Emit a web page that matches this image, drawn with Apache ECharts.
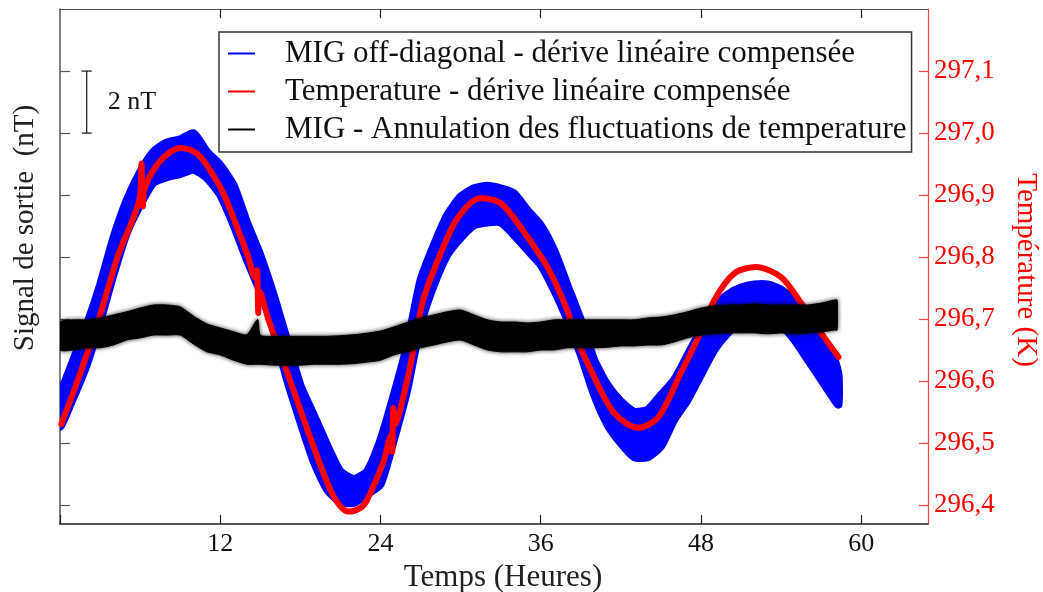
<!DOCTYPE html>
<html>
<head>
<meta charset="utf-8">
<script src="https://cdn.jsdelivr.net/npm/echarts@6/dist/echarts.min.js"></script>
<style>
html,body{margin:0;padding:0;background:#fff;}
#main{width:1043px;height:592px;}
</style>
</head>
<body>
<div id="main"></div>
<script>
// ---------- data ----------
const seriesNames = [
  'MIG off-diagonal - dérive linéaire compensée',
  'Temperature - dérive linéaire compensée',
  'MIG - Annulation des fluctuations de temperature'
];
const xAxisName = 'Temps (Heures)';
const leftAxisName = 'Signal de sortie  (nT)';
const rightAxisName = 'Température (K)';

const xTickValues = [0, 12, 24, 36, 48, 60];
const xLabelValues = [12, 24, 36, 48, 60];
const signalTickValues = [0, 2, 4, 6, 8, 10, 12, 14];
const tempTickValues = [296.4, 296.5, 296.6, 296.7, 296.8, 296.9, 297.0, 297.1];

// MIG off-diagonal (nT): envelope of the noisy signal
const blueHours = [0,1,2,3,4,5,6,7,8,9,10,11,12,13,14,15,16,17,18,19,20,21,22,23,24,25,26,27,28,29,30,31,32,33,34,35,36,37,38,39,40,41,42,43,44,45,46,47,48,49,50,51,52,53,54,55,56,57,58,58.3];
const blueHigh = [3.50,4.69,5.82,7.10,8.62,9.84,10.74,11.40,11.70,11.80,12.00,11.40,10.97,10.32,9.13,8.07,6.78,5.33,3.88,2.92,1.95,1.10,0.85,1.10,2.11,3.56,5.17,7.26,8.39,9.36,9.95,10.22,10.30,10.22,10.06,9.52,9.03,8.23,7.10,5.98,4.69,3.88,3.35,3.02,3.08,3.56,4.05,4.85,5.65,6.40,6.80,7.02,7.12,7.12,6.95,6.62,5.98,5.33,4.69,4.21];
const blueLow  = [2.53,3.47,4.53,5.91,7.43,8.78,9.68,10.40,10.58,10.68,10.82,10.55,10.00,9.03,7.91,6.88,5.65,4.05,2.69,1.41,0.51,0.10,0.08,0.36,0.67,2.11,3.72,5.82,7.10,8.07,8.62,9.02,9.12,9.12,8.71,8.23,7.75,6.94,5.98,4.85,3.56,2.60,2.00,1.55,1.55,1.90,2.76,3.40,4.21,5.01,5.55,5.90,6.00,6.00,5.80,5.33,4.69,4.05,3.40,3.25];

// Temperature (K)
const redHours = [0.1,1.3,2.9,4.3,6.0,6.1,6.2,6.35,7.5,9.0,10.2,11.0,12.3,14.1,14.6,14.75,14.85,14.95,15.6,17.25,18.9,20.5,21.6,22.5,23.0,24.2,24.8,24.88,24.95,25.05,26.0,26.5,27.2,28.5,29.8,31.5,33.0,34.5,36.5,38.0,38.5,40.0,41.5,43.3,44.8,46.5,47.8,49.0,50.5,52.1,54.0,55.5,57.0,58.3];
const redTemp  = [296.531,296.600,296.700,296.800,296.900,296.951,296.882,296.912,296.955,296.976,296.968,296.948,296.900,296.800,296.767,296.779,296.710,296.745,296.700,296.600,296.500,296.414,296.390,296.396,296.409,296.469,296.513,296.486,296.557,296.530,296.602,296.655,296.731,296.806,296.864,296.895,296.887,296.848,296.784,296.714,296.678,296.607,296.549,296.525,296.542,296.614,296.671,296.731,296.774,296.784,296.768,296.726,296.678,296.639];

// MIG with temperature compensation (nT): envelope of the noisy signal
const blackHours = [0,1,2,3,4,5,6,7,8,9,10,11,12,13,14,14.8,15,16,17,18,19,20,21,22,23,24,25,26,27,28,29,30,31,32,33,34,35,36,37,38,39,40,41,42,43,44,45,46,47,48,49,50,51,52,53,54,55,56,57,58,58.2];
const blackHigh = [5.91,5.98,5.98,6.04,6.14,6.24,6.36,6.46,6.46,6.40,6.10,5.85,5.72,5.60,5.50,6.00,5.48,5.45,5.45,5.45,5.45,5.45,5.47,5.50,5.55,5.62,5.75,5.90,6.04,6.14,6.24,6.30,6.14,5.98,5.91,5.91,5.88,5.91,5.98,5.98,5.98,5.98,5.98,5.98,5.98,6.04,6.07,6.14,6.24,6.36,6.43,6.46,6.46,6.49,6.46,6.46,6.46,6.46,6.52,6.62,6.62];
const blackLow  = [5.01,5.01,5.08,5.08,5.17,5.33,5.40,5.49,5.49,5.49,5.20,4.95,4.85,4.68,4.55,4.55,4.55,4.52,4.52,4.52,4.55,4.55,4.55,4.57,4.62,4.68,4.85,4.95,5.08,5.17,5.27,5.33,5.17,5.01,4.95,4.95,4.95,5.01,5.01,5.08,5.08,5.08,5.10,5.14,5.14,5.17,5.17,5.27,5.40,5.49,5.53,5.56,5.56,5.56,5.53,5.56,5.53,5.56,5.59,5.65,5.65];

// scale bar (2 nT) annotation
const scaleBarHour = 2;
const scaleBarFrom = 12;
const scaleBarTo = 14;
const scaleBarLabel = '2 nT';

// ---------- chart ----------
const FONT = "'Liberation Serif', 'DejaVu Serif', serif";
const chart = echarts.init(document.getElementById('main'), null, {renderer: 'canvas'});

function bandRenderer(hours, low, high, color, lw, blur) {
  return function (params, api) {
    if (params.dataIndex !== 0) return null;
    const pts = [];
    for (let i = 0; i < hours.length; i++) pts.push(api.coord([hours[i], low[i]]));
    for (let i = hours.length - 1; i >= 0; i--) pts.push(api.coord([hours[i], high[i]]));
    const style = {fill: color, stroke: color, lineWidth: lw, lineJoin: 'round'};
    if (blur) { style.shadowBlur = blur; style.shadowColor = 'rgba(0,0,0,0.75)'; }
    return {type: 'polygon', shape: {points: pts, smooth: 0.2}, style: style};
  };
}

const option = {
  backgroundColor: '#ffffff',
  animation: false,
  grid: {left: 60, right: 115, top: 9, bottom: 68, containLabel: false, outerBoundsMode: 'none'},
  legend: {
    orient: 'vertical',
    left: 219,
    top: 32,
    itemWidth: 27,
    itemHeight: 2,
    itemGap: 7,
    padding: [6, 5, 7, 9],
    borderColor: '#333',
    borderWidth: 1.5,
    backgroundColor: '#fff',
    selectedMode: false,
    textStyle: {fontFamily: FONT, fontSize: 31, color: '#111', lineHeight: 31, padding: [0, 0, 0, 25]},
    data: [
      {name: seriesNames[0], icon: 'rect', itemStyle: {color: '#0000ff'}},
      {name: seriesNames[1], icon: 'rect', itemStyle: {color: '#ff0000'}},
      {name: seriesNames[2], icon: 'rect', itemStyle: {color: '#000000'}}
    ]
  },
  xAxis: [
    {
      type: 'value', position: 'bottom', min: 0, max: 65,
      splitLine: {show: false},
      axisLine: {onZero: false, lineStyle: {color: '#222', width: 1.5}},
      axisTick: {inside: true, length: 9, customValues: xTickValues, lineStyle: {color: '#222', width: 1.2}},
      axisLabel: {customValues: xLabelValues, fontFamily: FONT, fontSize: 26, color: '#111', margin: 7},
      name: xAxisName, nameLocation: 'middle', nameGap: 36,
      nameTextStyle: {fontFamily: FONT, fontSize: 31, color: '#222', padding: [0, 0, 0, 18]}
    },
    {
      type: 'value', position: 'top', min: 0, max: 65,
      splitLine: {show: false},
      axisLine: {onZero: false, lineStyle: {color: '#555', width: 1.2}},
      axisTick: {inside: true, length: 9, customValues: xLabelValues, lineStyle: {color: '#222', width: 1.2}},
      axisLabel: {show: false}
    }
  ],
  yAxis: [
    {
      type: 'value', position: 'left', min: -0.6, max: 16,
      splitLine: {show: false},
      axisLine: {onZero: false, lineStyle: {color: '#555', width: 1.5}},
      axisTick: {inside: true, length: 10, customValues: signalTickValues, lineStyle: {color: '#555', width: 1.2}},
      axisLabel: {show: false}
    },
    {
      type: 'value', position: 'right', min: 296.37, max: 297.2,
      splitLine: {show: false},
      axisLine: {onZero: false, lineStyle: {color: '#ff4040', width: 1.2}},
      axisTick: {inside: true, length: 9, customValues: tempTickValues, lineStyle: {color: '#ff4040', width: 1.2}},
      axisLabel: {
        customValues: tempTickValues, fontFamily: FONT, fontSize: 27, color: '#ff0000', margin: 6,
        formatter: v => v.toFixed(1).replace('.', ',')
      }
    }
  ],
  graphic: [
    {
      type: 'text', x: 25, y: 228, rotation: Math.PI / 2,
      style: {text: leftAxisName, font: "29px " + FONT, fill: '#222', align: 'center', verticalAlign: 'middle'}
    },
    {
      type: 'text', x: 1026, y: 270, rotation: -Math.PI / 2,
      style: {text: rightAxisName, font: "29px " + FONT, fill: '#ff0000', align: 'center', verticalAlign: 'middle'}
    }
  ],
  series: [
    {
      name: seriesNames[0], type: 'custom', xAxisIndex: 0, yAxisIndex: 0, clip: true, z: 2,
      itemStyle: {color: '#0000ff'},
      renderItem: bandRenderer(blueHours, blueLow, blueHigh, '#0000ff', 8, 0),
      encode: {x: 0, y: [1, 2]},
      data: blueHours.map((h, i) => [h, blueLow[i], blueHigh[i]])
    },
    {
      name: seriesNames[1], type: 'line', xAxisIndex: 0, yAxisIndex: 1, z: 3,
      showSymbol: false, symbol: 'none', smooth: 0.3,
      itemStyle: {color: '#ff0000'},
      lineStyle: {color: '#ff0000', width: 6, join: 'round', cap: 'round'},
      data: redHours.map((h, i) => [h, redTemp[i]])
    },
    {
      name: seriesNames[2], type: 'custom', xAxisIndex: 0, yAxisIndex: 0, clip: true, z: 4,
      itemStyle: {color: '#000000'},
      renderItem: bandRenderer(blackHours, blackLow, blackHigh, '#000000', 1, 4),
      encode: {x: 0, y: [1, 2]},
      data: blackHours.map((h, i) => [h, blackLow[i], blackHigh[i]])
    },
    {
      name: 'scale', type: 'custom', xAxisIndex: 0, yAxisIndex: 0, z: 5,
      renderItem: function (params, api) {
        const a = api.coord([api.value(0), api.value(1)]);
        const b = api.coord([api.value(0), api.value(2)]);
        const st = {stroke: '#222', lineWidth: 1.3};
        return {
          type: 'group',
          children: [
            {type: 'line', shape: {x1: a[0], y1: a[1], x2: b[0], y2: b[1]}, style: st},
            {type: 'line', shape: {x1: a[0] - 5, y1: a[1], x2: a[0] + 5, y2: a[1]}, style: st},
            {type: 'line', shape: {x1: b[0] - 5, y1: b[1], x2: b[0] + 5, y2: b[1]}, style: st},
            {type: 'text', style: {text: scaleBarLabel, x: a[0] + 21, y: (a[1] + b[1]) / 2,
              font: "26px " + FONT, fill: '#111', verticalAlign: 'middle', align: 'left'}}
          ]
        };
      },
      data: [[scaleBarHour, scaleBarFrom, scaleBarTo]]
    }
  ]
};
chart.setOption(option);
</script>
</body>
</html>
